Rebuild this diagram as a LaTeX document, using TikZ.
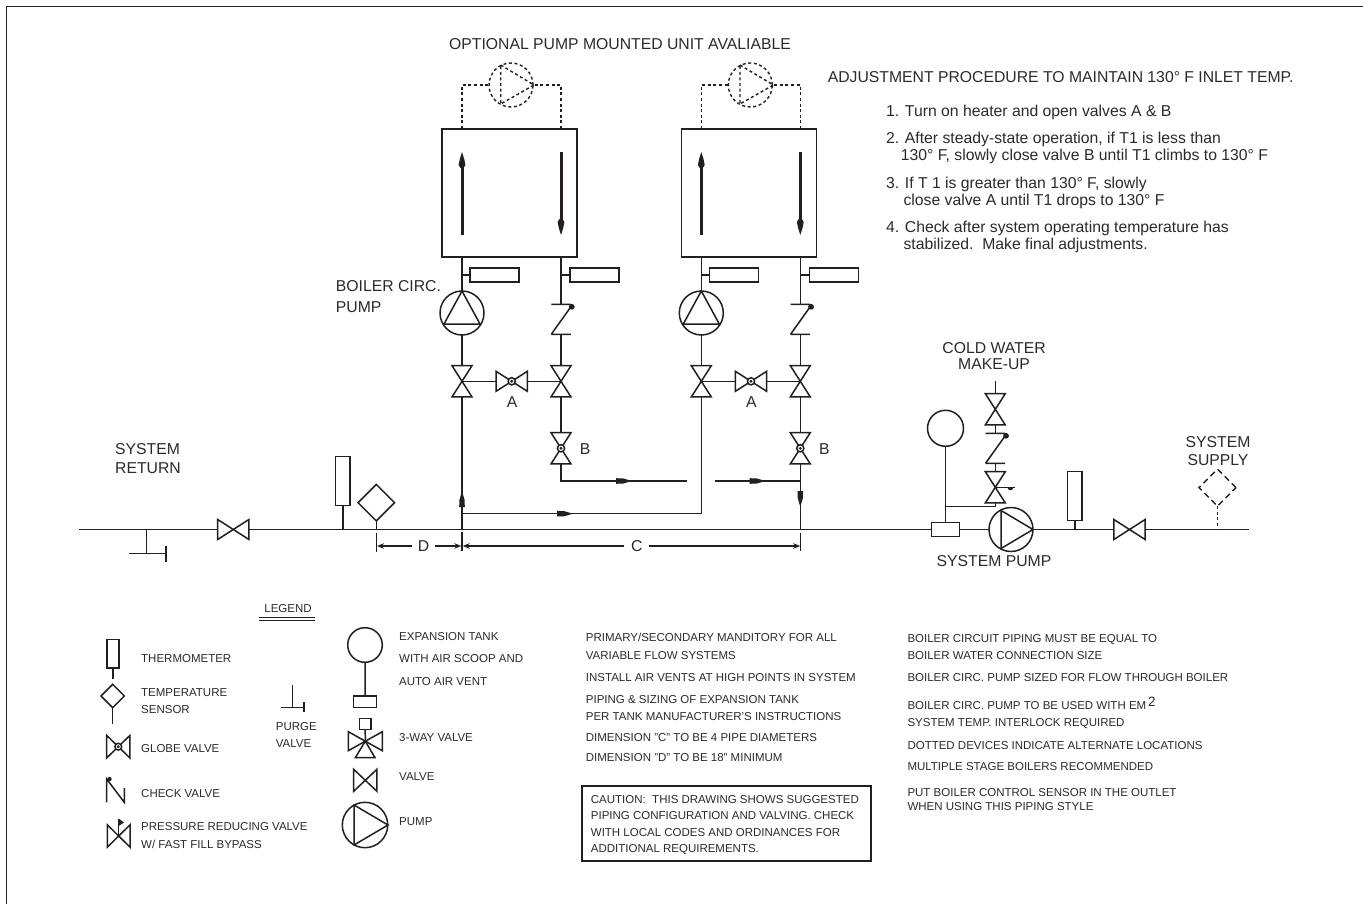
\documentclass[tikz,border=0pt]{standalone}
\usepackage{fontspec}
\setmainfont{Liberation Sans}
\usetikzlibrary{arrows.meta,calc,shapes.geometric}
\definecolor{ink}{HTML}{231F20}
\definecolor{txt}{HTML}{2B2A2A}
\newcommand{\bigf}{\fontsize{15.75}{15.75}\selectfont}
\newcommand{\smallf}{\fontsize{11.5}{11.5}\selectfont}
\tikzset{
  pipe/.style={draw=ink,line width=1.5pt,line join=miter},
  thin pipe/.style={draw=ink,line width=1.2pt},
  dashpipe/.style={draw=ink,line width=1.4pt,dash pattern=on 3pt off 2.6pt},
  box/.style={draw=ink,line width=1.5pt,rectangle,inner sep=0pt,outer sep=0pt,fill=white},
  round/.style={draw=ink,line width=1.5pt,circle,inner sep=0pt,outer sep=0pt},
  ghost/.style={rectangle,inner sep=0pt,outer sep=0pt},
  biglbl/.style={font=\bigf,text=txt,inner sep=0pt,anchor=west,text height=11.2pt,text depth=0pt},
  bigc/.style={biglbl,anchor=center},
  smalllbl/.style={font=\smallf,text=txt,inner sep=0pt,anchor=west,text height=8.2pt,text depth=0pt},
  dim/.style={draw=ink,line width=1.3pt,-{Stealth[length=7pt,width=5.5pt]}},
  shaft/.style={draw=ink,line width=3pt}
}
\newcommand{\valveV}[4][]{\node[ghost,minimum width=20pt,minimum height=31.3pt,#1] (#2) at (#3,#4) {};
  \draw[pipe] (#2.north west)--(#2.north east)--(#2.south west)--(#2.south east)--cycle;}
\newcommand{\valveH}[4][]{\node[ghost,minimum width=31.3pt,minimum height=20pt,#1] (#2) at (#3,#4) {};
  \draw[pipe] (#2.north west)--(#2.south west)--(#2.north east)--(#2.south east)--cycle;}
\newcommand{\globemark}[2][3.6pt]{\draw[pipe,fill=white] (#2.center) circle (#1); \fill[ink] (#2.center) circle (1.6pt);}
\newcommand{\checkV}[3]{\node[ghost,minimum width=19.5pt,minimum height=30pt] (#1) at (#2,#3) {};
  \draw[pipe] (#1.north west)--(#1.north east) (#1.south west)--(#1.south east) (#1.south west)--($(#1.north east)+(0.5,2)$);
  \fill[ink] ($(#1.north east)+(1,2.5)$) circle (2.9pt);}
\newcommand{\flowmark}[3]{\fill[ink,shift={(#1,#2)},rotate=#3] (0,-2.8)--(7,-2.6)--(16,0)--(7,2.6)--(0,2.8)--cycle;}
\newcommand{\headmark}[3]{\fill[ink,shift={(#1,#2)},rotate=#3] (0,-1.5)--(3,-3.4)--(9,-2.2)--(16,0)--(9,2.2)--(3,3.4)--(0,1.5)--cycle;}
\begin{document}
\begin{tikzpicture}[x=1pt,y=-1pt]
\useasboundingbox (0,0) rectangle (1363,904);
% sheet frame
\coordinate (frameA) at (6.5,904);
\coordinate (frameB) at (6.5,6.5);
\coordinate (frameC) at (1363,6.5);
\draw[pipe] (frameA)--(frameB)--(frameC);
% boilers
\foreach \o/\n in {0/a,239.3/b}{
  \node[box,minimum width=135pt,minimum height=128pt] (box\n) at (509.5+\o,193) {};
  \coordinate (dl\n) at (462+\o,129);
  \coordinate (dr\n) at (561+\o,129);
  \node[round,dash pattern=on 3pt off 2.6pt,line width=1.4pt,minimum size=44pt] (oc\n) at (511+\o,85) {};
  \draw[dashpipe] (dl\n) |- (oc\n.west);
  \draw[dashpipe] (dr\n) |- (oc\n.east);
  \draw[dashpipe] (500.7+\o,65)--(534+\o,85)--(500.7+\o,104)--cycle;
  % internal flow arrows
  \coordinate (ual\n) at (462+\o,235);
  \coordinate (uah\n) at (462+\o,158);
  \coordinate (dah\n) at (561+\o,152);
  \coordinate (dal\n) at (561+\o,229);
  \draw[shaft] (ual\n)--(uah\n);
  \draw[shaft] (dah\n)--(dal\n);
  \headmark{462+\o}{168}{90}
  \headmark{561+\o}{219}{-90}
  % pump
  \node[round,minimum size=44pt] (p\n) at (462+\o,313) {};
  \draw[pipe] (p\n.north)--(444+\o,324)--(480+\o,324)--cycle;
  \draw[pipe] (p\n |- box\n.south)--(p\n.north);
  % thermometers
  \node[box,minimum width=49pt,minimum height=14pt] (tl\n) at (494.5+\o,275) {};
  \node[box,minimum width=49pt,minimum height=14pt] (tr\n) at (594.5+\o,275) {};
  \draw[pipe] (tl\n.west)--(p\n |- tl\n.west);
  % check valve
  \checkV{c\n}{561+\o}{319.3}
  \draw[pipe] (c\n |- box\n.south)--(c\n.north);
  \draw[pipe] (tr\n.west)--(c\n |- tr\n.west);
  % valves
  \valveV{vl\n}{462+\o}{381.3}
  \valveV{vr\n}{561+\o}{381.3}
  \valveH{ga\n}{511.7+\o}{381.3}
  \globemark{ga\n}
  \valveV{gb\n}{561+\o}{448.3}
  \globemark{gb\n}
  \draw[pipe] (p\n.south)--(vl\n.north);
  \draw[pipe] (c\n.south)--(vr\n.north);
  \draw[pipe] (vl\n.center)--(ga\n.west);
  \draw[pipe] (ga\n.east)--(vr\n.center);
  \draw[pipe] (vr\n.south)--(gb\n.north);
  \node[bigc] (la\n) at (512+\o,402) {A};
  \node[biglbl] (lb\n) at (579.6+\o,448.5) {B};
}
% main line
\coordinate (mainL) at (79,529.5);
\coordinate (mainR) at (1249,529.5);
\valveH{rv}{233.3}{529.5}
\node[box,minimum width=27.6pt,minimum height=14.3pt] (scoop) at (945.5,529.5) {};
\node[round,minimum size=44pt] (sp) at (1011,529.5) {};
\draw[pipe] (1001,510.5)--(1033,529.5)--(1001,548.5)--cycle;
\valveH{sv}{1129.5}{529.5}
\draw[pipe] (mainL)--(rv.west);
\draw[pipe] (rv.east)--(scoop.west);
\draw[pipe] (scoop.east)--(sp.west);
\draw[pipe] (sp.east)--(sv.west);
\draw[pipe] (sv.east)--(mainR);
% purge
\coordinate (pgA) at (146.7,529.5);
\coordinate (pgB) at (146.7,553.5);
\coordinate (pgC) at (128.7,553.5);
\coordinate (pgD) at (166,553.5);
\coordinate (pgE) at (166,545.5);
\coordinate (pgF) at (166,561.7);
\draw[pipe] (pgA)--(pgB);
\draw[pipe] (pgC)--(pgD);
\draw[pipe] (pgE)--(pgF);
% thermometer & sensor on return
\node[box,minimum width=14.3pt,minimum height=49pt] (t1) at (342.8,481.2) {};
\draw[pipe] (t1.south)--(t1.south |- mainL);
\node[diamond,draw=ink,line width=1.5pt,inner sep=0pt,outer sep=0pt,minimum width=36.5pt,minimum height=36.5pt] (sens) at (376.3,502.7) {};
\draw[pipe] (sens.south)--(sens.south |- mainL);
% piping between boilers
\draw[pipe] (vla.south)--(vla.south |- mainL);
\coordinate (ret) at (462,513.7);
\draw[pipe] (ret) -| (vlb.south);
\flowmark{557}{513.7}{0}
\flowmark{462}{507}{90}
\coordinate (brA) at (561,481);
\coordinate (brB) at (687,481);
\coordinate (brC) at (715,481);
\coordinate (brD) at (800.3,481);
\draw[pipe] (gba.south)--(brA)--(brB);
\draw[pipe] (brC)--(brD);
\draw[pipe] (gbb.south)--(gbb.south |- mainL);
\flowmark{616}{481}{0}
\flowmark{749.5}{481}{0}
\flowmark{800.3}{491}{-90}
% dimensions
\coordinate (tkD) at (376.3,532.7);
\coordinate (tkDb) at (376.3,551.7);
\coordinate (tkM) at (462,532);
\coordinate (tkMb) at (462,551);
\coordinate (tkC) at (800.7,532.7);
\coordinate (tkCb) at (800.7,551);
\draw[pipe] (tkD)--(tkDb);
\draw[pipe] (tkM)--(tkMb);
\draw[pipe] (tkC)--(tkCb);
\node[bigc,inner xsep=5.5pt] (dimD) at (423.5,546) {D};
\node[bigc,inner xsep=6.5pt] (dimC) at (636.7,546) {C};
\coordinate (dD1) at (377,546);
\coordinate (dD2) at (461.3,546);
\coordinate (dC1) at (462.7,546);
\coordinate (dC2) at (800.2,546);
\draw[dim] (dimD.west)--(dD1);
\draw[dim] (dimD.east)--(dD2);
\draw[dim] (dimC.west)--(dC1);
\draw[dim] (dimC.east)--(dC2);
% make-up
\node[round,minimum size=36pt] (et) at (945.5,428.3) {};
\draw[pipe] (et.south)--(et.south |- scoop.north);
\coordinate (mkTop) at (995.3,380.7);
\coordinate (mkTee) at (995.3,506.7);
\coordinate (mkLeft) at (945.5,506.7);
\valveV{mk1}{995.3}{409.3}
\checkV{mk2}{995.3}{448.3}
\valveV{mk3}{995.3}{487.3}
\draw[pipe] (mkTop)--(mk1.north);
\draw[pipe] (mk1.south)--(mk2.north);
\draw[pipe] (mk2.south)--(mk3.north);
\draw[pipe] (mk3.south)--(mkTee)--(mkLeft);
\coordinate (flagE) at (1015,487.3);
\draw[pipe] (mk3.center)--(flagE);
\fill[ink] (1007.5,487.3) arc[start angle=180,end angle=360,radius=3pt]--cycle;
% right thermometer, supply
\node[box,minimum width=14.3pt,minimum height=48.6pt] (t2) at (1074.8,496) {};
\draw[pipe] (t2.south)--(t2.south |- mainR);
\node[diamond,draw=ink,line width=1.4pt,dash pattern=on 6pt off 4pt,inner sep=0pt,outer sep=0pt,minimum width=37pt,minimum height=37pt] (sens2) at (1217.5,487.7) {};
\draw[dashpipe] (sens2.south)--(sens2.south |- mainR);
% main labels
\node[biglbl] (tOpt) at (449,44) {OPTIONAL PUMP MOUNTED UNIT AVALIABLE};
\node[biglbl] (tAdj) at (827.6,77) {ADJUSTMENT PROCEDURE TO MAINTAIN 130° F INLET TEMP.};
\node[biglbl] (tP1) at (885.8,110.7) {1. Turn on heater and open valves A \& B};
\node[biglbl] (tP2) at (885.8,137.7) {2. After steady-state operation, if T1 is less than};
\node[biglbl] (tP2b) at (900.7,155) {130° F, slowly close valve B until T1 climbs to 130° F};
\node[biglbl] (tP3) at (885.8,183) {3. If T 1 is greater than 130° F, slowly};
\node[biglbl] (tP3b) at (903.3,200) {close valve A until T1 drops to 130° F};
\node[biglbl] (tP4) at (885.8,226.7) {4. Check after system operating temperature has};
\node[biglbl] (tP4b) at (903.3,244.3) {stabilized.\ \ Make final adjustments.};
\node[biglbl] (tBc) at (335.7,285.7) {BOILER CIRC.};
\node[biglbl] (tBp) at (335.7,307.3) {PUMP};
\node[biglbl] (tSr) at (115,448.7) {SYSTEM};
\node[biglbl] (tSr2) at (115,467.7) {RETURN};
\node[bigc] (tCw) at (994,348.3) {COLD WATER};
\node[bigc] (tMu) at (994,364) {MAKE-UP};
\node[bigc] (tSp) at (994,561) {SYSTEM PUMP};
\node[bigc] (tSs) at (1218,441.7) {SYSTEM};
\node[bigc] (tSs2) at (1218,460) {SUPPLY};
% legend
\node[smalllbl,anchor=center] (lgT) at (288,608) {LEGEND};
\coordinate (lgA) at (259,617.3);
\coordinate (lgB) at (314.7,617.3);
\coordinate (lgC) at (259,620.3);
\coordinate (lgD) at (314.7,620.3);
\draw[thin pipe] (lgA)--(lgB);
\draw[thin pipe] (lgC)--(lgD);
\node[box,minimum width=12pt,minimum height=28.7pt] (lt) at (113,653.7) {};
\coordinate (ltE) at (113,679);
\draw[pipe] (lt.south)--(ltE);
\node[smalllbl] (ltx) at (141,658) {THERMOMETER};
\node[diamond,draw=ink,line width=1.5pt,inner sep=0pt,outer sep=0pt,minimum width=23.4pt,minimum height=23.4pt] (ls) at (112.7,696) {};
\coordinate (lsE) at (112.7,724);
\draw[pipe] (ls.south)--(lsE);
\node[smalllbl] (lsx) at (141,692) {TEMPERATURE};
\node[smalllbl] (lsy) at (141,709) {SENSOR};
\valveH[minimum width=23.3pt,minimum height=22.6pt]{lg}{118.3}{746.7}
\globemark[3.4pt]{lg}
\node[smalllbl] (lgx) at (141,748) {GLOBE VALVE};
\node[ghost,minimum width=17.6pt,minimum height=23.3pt] (lc) at (115.5,790.7) {};
\draw[pipe] (lc.south west)--(lc.north west)--(lc.south east)--($(lc.south east)+(0,-14.5)$);
\fill[ink] ($(lc.north west)+(2.8,0)$) circle (2.2pt);
\node[smalllbl] (lcx) at (141,793) {CHECK VALVE};
\valveH[minimum width=22.7pt,minimum height=22.3pt]{lr}{118.7}{836}
\coordinate (lrT) at (118.7,818.5);
\draw[pipe] (lr.center)--(lrT);
\fill[ink] (118.7,818.5)--(124,822.5)--(118.7,826)--cycle;
\node[smalllbl] (lrx) at (141,826.7) {PRESSURE REDUCING VALVE};
\node[smalllbl] (lry) at (141,844) {W/ FAST FILL BYPASS};
% legend purge
\coordinate (lpA) at (292.3,685);
\coordinate (lpB) at (292.3,707.3);
\coordinate (lpC) at (281.3,707.3);
\coordinate (lpD) at (304,707.3);
\coordinate (lpE) at (304,702.3);
\coordinate (lpF) at (304,712.3);
\draw[pipe] (lpA)--(lpB);
\draw[pipe] (lpC)--(lpD);
\draw[pipe] (lpE)--(lpF);
\node[smalllbl] (lpx) at (275.7,726) {PURGE};
\node[smalllbl] (lpy) at (275.7,743) {VALVE};
% legend right column
\node[round,minimum size=34.6pt] (le) at (365,645) {};
\node[box,minimum width=23pt,minimum height=11.3pt] (leb) at (365.2,701.7) {};
\draw[pipe] (le.south)--(leb.north);
\node[smalllbl] (lex) at (399,636) {EXPANSION TANK};
\node[smalllbl] (ley) at (399,658) {WITH AIR SCOOP AND};
\node[smalllbl] (lez) at (399,681) {AUTO AIR VENT};
\valveH[minimum width=34pt,minimum height=19pt]{l3}{365.3}{741.2}
\node[box,minimum width=11.7pt,minimum height=10.6pt] (l3b) at (365.2,724) {};
\draw[pipe] (l3b.south)--(l3.center);
\coordinate (l3A) at (355.3,757.7);
\coordinate (l3B) at (375,757.7);
\draw[pipe] (l3.center)--(l3A)--(l3B)--cycle;
\node[smalllbl] (l3x) at (399,737) {3-WAY VALVE};
\valveH[minimum width=23.3pt,minimum height=22pt]{lv}{365.3}{780.3}
\node[smalllbl] (lvx) at (399,776) {VALVE};
\node[round,minimum size=45.4pt] (lp) at (365,825) {};
\draw[pipe] (354,805)--(388,825)--(354,845)--cycle;
\node[smalllbl] (lpm) at (399,821) {PUMP};
% notes, column 1
\node[smalllbl] (n1) at (585.7,637.7) {PRIMARY/SECONDARY MANDITORY FOR ALL};
\node[smalllbl] (n2) at (585.7,655) {VARIABLE FLOW SYSTEMS};
\node[smalllbl] (n3) at (585.7,677) {INSTALL AIR VENTS AT HIGH POINTS IN SYSTEM};
\node[smalllbl] (n4) at (585.7,699.7) {PIPING \& SIZING OF EXPANSION TANK};
\node[smalllbl] (n5) at (585.7,716.7) {PER TANK MANUFACTURER'S INSTRUCTIONS};
\node[smalllbl] (n6) at (585.7,737) {DIMENSION "C" TO BE 4 PIPE DIAMETERS};
\node[smalllbl] (n7) at (585.7,757.7) {DIMENSION "D" TO BE 18" MINIMUM};
\node[draw=ink,line width=1.5pt,rectangle,inner sep=0pt,minimum width=288.7pt,minimum height=75.3pt] (cbox) at (726.4,823.4) {};
\node[smalllbl] (c1) at (590.7,799) {CAUTION:\ \ THIS DRAWING SHOWS SUGGESTED};
\node[smalllbl] (c2) at (590.7,815.7) {PIPING CONFIGURATION AND VALVING. CHECK};
\node[smalllbl] (c3) at (590.7,832) {WITH LOCAL CODES AND ORDINANCES FOR};
\node[smalllbl] (c4) at (590.7,848.7) {ADDITIONAL REQUIREMENTS.};
% notes, column 2
\node[smalllbl] (m1) at (907.3,638) {BOILER CIRCUIT PIPING MUST BE EQUAL TO};
\node[smalllbl] (m2) at (907.3,655) {BOILER WATER CONNECTION SIZE};
\node[smalllbl] (m3) at (907.3,677) {BOILER CIRC. PUMP SIZED FOR FLOW THROUGH BOILER};
\node[smalllbl] (m4) at (907.3,705) {BOILER CIRC. PUMP TO BE USED WITH EM\,\raisebox{3pt}{\fontsize{13.5}{13.5}\selectfont 2}};
\node[smalllbl] (m5) at (907.3,722.3) {SYSTEM TEMP. INTERLOCK REQUIRED};
\node[smalllbl] (m6) at (907.3,745) {DOTTED DEVICES INDICATE ALTERNATE LOCATIONS};
\node[smalllbl] (m7) at (907.3,766.7) {MULTIPLE STAGE BOILERS RECOMMENDED};
\node[smalllbl] (m8) at (907.3,792.7) {PUT BOILER CONTROL SENSOR IN THE OUTLET};
\node[smalllbl] (m9) at (907.3,806) {WHEN USING THIS PIPING STYLE};
\end{tikzpicture}
\end{document}
